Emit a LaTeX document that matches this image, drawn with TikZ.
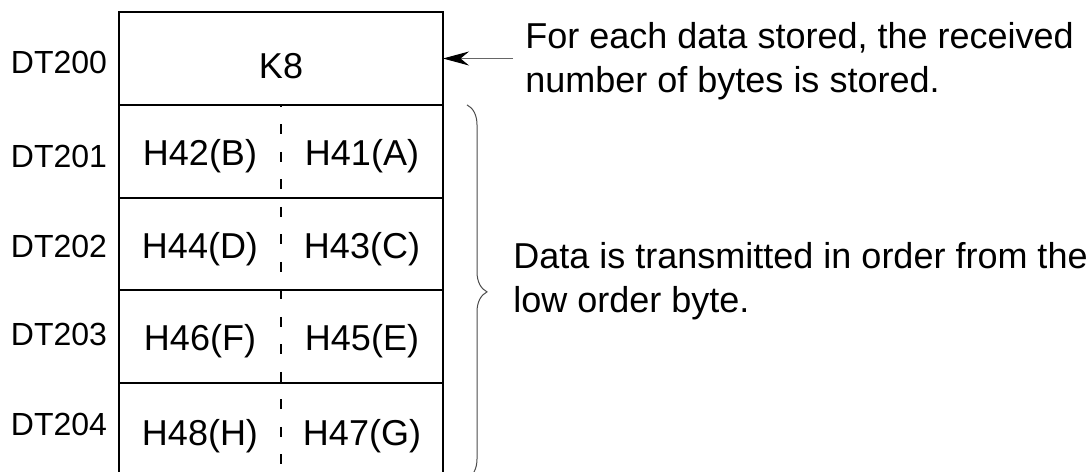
\documentclass[tikz,border=0pt]{standalone}
\usepackage{fontspec}
\setmainfont{Liberation Sans}
\usepackage{tikz}
\usetikzlibrary{positioning,arrows.meta,calc,decorations.pathreplacing}

\begin{document}
\begin{tikzpicture}[x=0.5pt, y=-0.5pt, >={Stealth[length=13pt, width=7pt, black]},
  cell/.style={draw, line width=1pt, minimum width=162pt, minimum height=46.375pt, inner sep=0pt, outer sep=0pt},
  byte/.style={anchor=base, inner sep=0pt, font=\fontsize{18}{21}\selectfont},
  addr/.style={anchor=base, inner sep=0pt, font=\fontsize{16}{19}\selectfont},
  note/.style={anchor=north west, align=left, inner xsep=6pt, inner ysep=0pt, font=\fontsize{18}{22}\selectfont},
  ptr/.style={->, line width=0.5pt, draw=black!60},
  divider/.style={line width=1pt, dash pattern=on 5pt off 8.75pt, dash phase=4pt}]
\useasboundingbox (0,0) rectangle (1086,471);
% register cells
\node[cell] (r0) at (281,58.5) {};
\node[cell, below=0pt of r0] (r1) {};
\node[cell, below=0pt of r1] (r2) {};
\node[cell, below=0pt of r2] (r3) {};
\node[cell, below=0pt of r3] (r4) {};
\draw[divider] (r1.north) -- (r4.south);
% contents
\node[byte] (k8) at (281,78) {K8};
\node[byte] (b2) at (200,165) {H42(B)}; \node[byte] (b1) at (362,165) {H41(A)};
\node[byte] (b4) at (200,258) {H44(D)}; \node[byte] (b3) at (362,258) {H43(C)};
\node[byte] (b6) at (200,350) {H46(F)}; \node[byte] (b5) at (362,350) {H45(E)};
\node[byte] (b8) at (200,445) {H48(H)}; \node[byte] (b7) at (362,445) {H47(G)};
% addresses
\node[addr] (dt0) at (59,73) {DT200};
\node[addr] (dt1) at (59,167) {DT201};
\node[addr] (dt2) at (59,257) {DT202};
\node[addr] (dt3) at (59,345) {DT203};
\node[addr] (dt4) at (59,435) {DT204};
% notes
\node[note] (cnt) at (513,22) {For each data stored, the received\\number of bytes is stored.};
\node[note] (ord) at (501,242) {Data is transmitted in order from the\\low order byte.};
\draw[ptr] (cnt.west |- r0.east) -- (r0.east);
\draw[line width=0.5pt, draw=black!70, decorate, decoration={brace, amplitude=10pt}]
  ($(r1.north east)+(24,0)$) -- ($(r4.south east)+(24,3)$);
\end{tikzpicture}
\end{document}
